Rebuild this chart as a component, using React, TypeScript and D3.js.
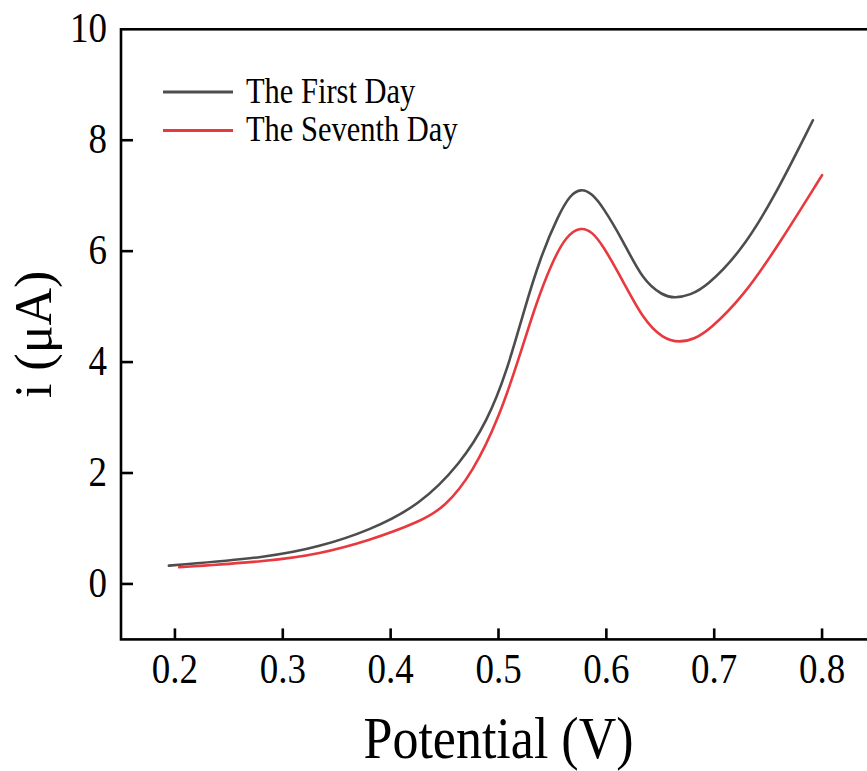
import * as d3 from "d3";

// Potential (V) and current (µA)
const firstDayX = [0.1944, 0.2875, 0.334, 0.38, 0.427, 0.4648, 0.4896, 0.5081, 0.5236, 0.539, 0.5555, 0.5665, 0.5766, 0.5866, 0.5967, 0.6152, 0.6338, 0.6523, 0.6632, 0.678, 0.6926, 0.7235, 0.7544, 0.7915];
const firstDayY = [0.33, 0.48, 0.67, 0.96, 1.42, 2.17, 2.93, 3.85, 4.93, 5.9, 6.65, 7.02, 7.13, 7.04, 6.8, 6.2, 5.47, 5.2, 5.15, 5.21, 5.36, 5.96, 6.92, 8.36];

const seventhDayX = [0.204, 0.2875, 0.334, 0.38, 0.427, 0.4502, 0.476, 0.5008, 0.5193, 0.5347, 0.5492, 0.5627, 0.5766, 0.5866, 0.5967, 0.6152, 0.6338, 0.6523, 0.668, 0.682, 0.6955, 0.7265, 0.7606, 0.8];
const seventhDayY = [0.3, 0.41, 0.54, 0.78, 1.12, 1.38, 2.0, 3.01, 4.09, 5.05, 5.78, 6.28, 6.44, 6.35, 6.11, 5.47, 4.78, 4.42, 4.35, 4.42, 4.58, 5.17, 6.14, 7.37];

const xTicks = [0.2, 0.3, 0.4, 0.5, 0.6, 0.7, 0.8];
const yTicks = [0, 2, 4, 6, 8, 10];

const seriesNames = ["The First Day", "The Seventh Day"];
const seriesColors = ["#4d4d4d", "#e8393f"];

const W = 867;
const H = 771;
const FONT = "'Liberation Serif', 'Times New Roman', serif";
const SY = 1.14; // the reference glyphs look stretched vertically

export default function App() {
  const x = d3.scaleLinear().domain([0.15, 0.85]).range([121, 876]);
  const y = d3.scaleLinear().domain([-1, 10]).range([639.4, 29.3]);

  const line = d3
    .line<[number, number]>()
    .x((d) => x(d[0]))
    .y((d) => y(d[1]))
    .curve(d3.curveBasis);

  const series = [
    firstDayX.map((v, i) => [v, firstDayY[i]] as [number, number]),
    seventhDayX.map((v, i) => [v, seventhDayY[i]] as [number, number]),
  ];

  return (
    <svg
      width={W}
      height={H}
      style={{ position: "absolute", left: 0, top: 0, background: "#fff", overflow: "hidden" }}
    >
      <rect width={W} height={H} fill="#fff" />

      {/* curves */}
      {series.map((pts, i) => (
        <path
          key={i}
          d={line(pts) || ""}
          fill="none"
          stroke={seriesColors[i]}
          strokeWidth={2.6}
          strokeLinecap="round"
        />
      ))}

      {/* frame */}
      <rect
        x={x(0.15)}
        y={y(10)}
        width={x(0.85) - x(0.15)}
        height={y(-1) - y(10)}
        fill="none"
        stroke="#000"
        strokeWidth={2.6}
      />

      {/* y ticks (inward) */}
      {yTicks.map((t) => (
        <g key={t}>
          {t !== 10 && (
            <line x1={x(0.15)} x2={x(0.15) + 12} y1={y(t)} y2={y(t)} stroke="#000" strokeWidth={2.6} />
          )}
          <text
            transform={`translate(107,${y(t) + 13}) scale(1,${SY})`}
            textAnchor="end"
            fontFamily={FONT}
            fontSize={37}
          >
            {t}
          </text>
        </g>
      ))}

      {/* x ticks (inward) */}
      {xTicks.map((t) => (
        <g key={t}>
          <line x1={x(t)} x2={x(t)} y1={y(-1)} y2={y(-1) - 11} stroke="#000" strokeWidth={2.6} />
          <text
            transform={`translate(${x(t)},683) scale(1,${SY})`}
            textAnchor="middle"
            fontFamily={FONT}
            fontSize={37}
          >
            {d3.format(".1f")(t)}
          </text>
        </g>
      ))}

      {/* axis titles */}
      <text
        transform={`translate(${(x(0.15) + x(0.85)) / 2},758) scale(1,${SY})`}
        textAnchor="middle"
        fontFamily={FONT}
        fontSize={52}
      >
        Potential (V)
      </text>
      <text
        transform={`translate(51,${(y(10) + y(-1)) / 2}) rotate(-90)`}
        textAnchor="middle"
        fontFamily={FONT}
        fontSize={52}
      >
        i (μA)
      </text>

      {/* legend */}
      {seriesNames.map((name, i) => (
        <g key={name}>
          <line x1={163} x2={233} y1={92 + i * 38.5} y2={92 + i * 38.5} stroke={seriesColors[i]} strokeWidth={3} />
          <text
            transform={`translate(246,${102.5 + i * 38.5}) scale(1,${SY})`}
            fontFamily={FONT}
            fontSize={30.5}
          >
            {name}
          </text>
        </g>
      ))}
    </svg>
  );
}
